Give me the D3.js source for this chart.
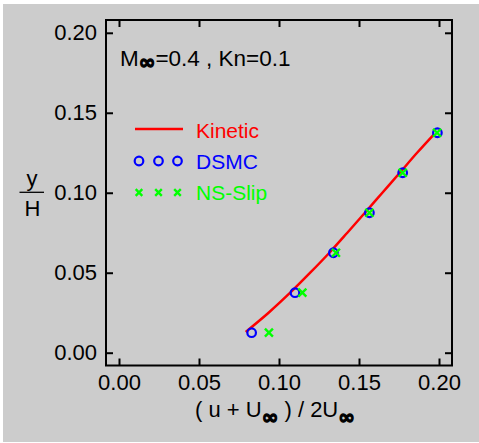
<!DOCTYPE html>
<html><head><meta charset="utf-8">
<script src="https://cdn.jsdelivr.net/npm/d3@7"></script>
<style>body{margin:0;background:#fff}svg{display:block}</style>
</head><body>
<svg id="c" width="479" height="443"></svg>
<script>
// Data
const kineticX = [0.0792, 0.0935, 0.1070, 0.1195, 0.1315, 0.1427, 0.1537, 0.1646, 0.1755, 0.1863, 0.1970];
const kineticY = [0.0130, 0.0250, 0.0375, 0.0500, 0.0625, 0.0750, 0.0875, 0.1000, 0.1125, 0.1250, 0.1367];
const dsmcX = [0.0829, 0.1100, 0.1340, 0.1565, 0.1773, 0.1990];
const dsmcY = [0.0125, 0.0375, 0.0625, 0.0875, 0.1125, 0.1375];
const nsX = [0.0937, 0.1146, 0.1356, 0.1565, 0.1773, 0.1988];
const nsY = [0.0125, 0.0375, 0.0625, 0.0875, 0.1125, 0.1375];
const xTicks = [0.00, 0.05, 0.10, 0.15, 0.20];
const yTicks = [0.00, 0.05, 0.10, 0.15, 0.20];
const legendLabels = ["Kinetic", "DSMC", "NS-Slip"];

const FONT = "'Liberation Sans', Arial, sans-serif";
const svg = d3.select("#c");
svg.append("rect").attr("x", 3).attr("y", 4).attr("width", 476).attr("height", 438).attr("fill", "#cccccc");

const L = 106, R = 452, T = 20, B = 365.5;
const x = d3.scaleLinear().domain([-0.008125, 0.208125]).range([L, R]);
const y = d3.scaleLinear().domain([-0.008, 0.208]).range([B, T]);
const fmt = d3.format(".2f");

function styleAxis(g, labels) {
  g.select(".domain").remove();
  g.selectAll(".tick line").attr("stroke", "#000").attr("stroke-width", 2);
  g.selectAll(".tick text").attr("fill", "#000").style("font-family", FONT).style("font-size", "22px");
  if (!labels) g.selectAll(".tick text").remove();
}
svg.append("g").attr("transform", `translate(0,${B})`)
  .call(d3.axisBottom(x).tickValues(xTicks).tickFormat(fmt).tickSizeInner(-7).tickSizeOuter(0).tickPadding(9))
  .call(g => styleAxis(g, true));
svg.append("g").attr("transform", `translate(0,${T})`)
  .call(d3.axisTop(x).tickValues(xTicks).tickFormat(fmt).tickSizeInner(-7).tickSizeOuter(0))
  .call(g => styleAxis(g, false));
svg.append("g").attr("transform", `translate(${L},0)`)
  .call(d3.axisLeft(y).tickValues(yTicks).tickFormat(fmt).tickSizeInner(-7).tickSizeOuter(0).tickPadding(9))
  .call(g => styleAxis(g, true));
svg.append("g").attr("transform", `translate(${R},0)`)
  .call(d3.axisRight(y).tickValues(yTicks).tickFormat(fmt).tickSizeInner(-7).tickSizeOuter(0))
  .call(g => styleAxis(g, false));

svg.append("rect").attr("x", L).attr("y", T).attr("width", R - L).attr("height", B - T)
  .attr("fill", "none").attr("stroke", "#000").attr("stroke-width", 2);

// Kinetic line
const kin = kineticX.map((d, i) => [d, kineticY[i]]);
svg.append("path").datum(kin)
  .attr("d", d3.line().x(d => x(d[0])).y(d => y(d[1])).curve(d3.curveMonotoneY))
  .attr("fill", "none").attr("stroke", "#ff0000").attr("stroke-width", 2.5);

// DSMC circles
const circ = dsmcX.map((d, i) => [d, dsmcY[i]]);
svg.append("g").selectAll("circle").data(circ).join("circle")
  .attr("cx", d => x(d[0])).attr("cy", d => y(d[1])).attr("r", 4.3)
  .attr("fill", "none").attr("stroke", "#0000ff").attr("stroke-width", 2.2);

// NS-Slip crosses
const crossPath = (cx, cy, s) => `M${cx - s},${cy - s}L${cx + s},${cy + s}M${cx - s},${cy + s}L${cx + s},${cy - s}`;
const ns = nsX.map((d, i) => [d, nsY[i]]);
svg.append("g").selectAll("path").data(ns).join("path")
  .attr("d", d => crossPath(x(d[0]), y(d[1]), 4))
  .attr("fill", "none").attr("stroke", "#00ff00").attr("stroke-width", 2.4);

// Legend
const lg = svg.append("g");
lg.append("line").attr("x1", 135).attr("x2", 183).attr("y1", 129).attr("y2", 129)
  .attr("stroke", "#ff0000").attr("stroke-width", 2.5);
[139, 158.5, 177.5].forEach(cx => {
  lg.append("circle").attr("cx", cx).attr("cy", 161).attr("r", 4.3).attr("fill", "none")
    .attr("stroke", "#0000ff").attr("stroke-width", 2.2);
  lg.append("path").attr("d", crossPath(cx, 192.5, 3.3)).attr("stroke", "#00ff00").attr("stroke-width", 2.4);
});
const legColors = ["#ff0000", "#0000ff", "#00ff00"];
const legY = [137.5, 168.5, 200];
legendLabels.forEach((t, i) => {
  lg.append("text").attr("x", 196).attr("y", legY[i]).text(t)
    .attr("fill", legColors[i]).style("font-family", FONT).style("font-size", "21px");
});

// infinity subscript style
function inf(sel, dy) {
  return sel.append("tspan").text("∞").attr("dy", dy)
    .style("font-family", "'DejaVu Sans'").style("font-weight", "bold").style("font-size", "20px")
    .attr("stroke", "#000").attr("stroke-width", 1.2);
}

// Annotation
const ann = svg.append("text").attr("x", 120).attr("y", 65.5).attr("fill", "#000")
  .style("font-family", FONT).style("font-size", "22.5px");
ann.append("tspan").text("M");
inf(ann, 3);
ann.append("tspan").text("=0.4 , Kn=0.1").attr("dy", -3);

// X axis title
const xt = svg.append("text").attr("x", 275).attr("y", 417).attr("text-anchor", "middle").attr("fill", "#000")
  .style("font-family", FONT).style("font-size", "22px");
xt.append("tspan").text("( u + U");
inf(xt, 7);
xt.append("tspan").text(" ) / 2U").attr("dy", -7);
inf(xt, 7);

// Y axis title (fraction)
svg.append("text").attr("x", 32).attr("y", 186).attr("text-anchor", "middle").text("y")
  .style("font-family", FONT).style("font-size", "22px");
svg.append("line").attr("x1", 19.5).attr("x2", 44).attr("y1", 192.3).attr("y2", 192.3)
  .attr("stroke", "#000").attr("stroke-width", 1.3);
svg.append("text").attr("x", 32.5).attr("y", 215.5).attr("text-anchor", "middle").text("H")
  .style("font-family", FONT).style("font-size", "22px");
</script>
</body></html>
